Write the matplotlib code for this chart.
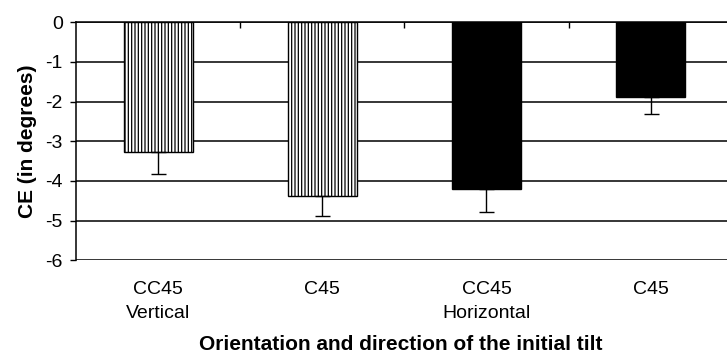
import numpy as np
import matplotlib
matplotlib.use('Agg')
import matplotlib.pyplot as plt

plt.rcParams['font.family'] = ['Liberation Sans', 'DejaVu Sans']
plt.rcParams['hatch.linewidth'] = 0.9
plt.rcParams['axes.unicode_minus'] = False

# data
directions = ["CC45", "C45", "CC45", "C45"]
orientations = ["Vertical", "", "Horizontal", ""]
ce_means = [-3.28, -4.38, -4.20, -1.88]
ce_errors = [0.54, 0.51, 0.59, 0.43]
hatches = ["|||||", "|||||", None, None]
fills = ["white", "white", "black", "black"]

fig = plt.figure(figsize=(7.27, 3.57), dpi=100)
ax = fig.add_axes([0.1045, 0.2709, 0.9035, 0.6666])

x = np.arange(len(ce_means))
for xi, m, h, fc in zip(x, ce_means, hatches, fills):
    ax.bar(xi, m, width=0.42, color=fc, edgecolor="black", linewidth=1.0,
           hatch=h, zorder=3)

ax.errorbar(x, ce_means, yerr=[ce_errors, np.zeros(len(ce_errors))],
            fmt="none", ecolor="black", elinewidth=1.0, capsize=5.4,
            capthick=1.0, zorder=4)

ax.set_xlim(-0.5, 3.5)
ax.set_ylim(-6, 0)
ax.set_yticks(np.arange(-6, 1, 1))
ax.yaxis.grid(True, color="black", linewidth=1.1, zorder=0)
ax.set_axisbelow(True)

labels = [d + ("\n" + o if o else "") for d, o in zip(directions, orientations)]
ax.set_xticks(x)
ax.set_xticklabels(labels, fontsize=14)
for t in ax.get_xticklabels():
    t.set_linespacing(1.5)
    t.set_verticalalignment("top")
ax.set_xticks(x[:-1] + 0.5, minor=True)
ax.tick_params(axis="x", which="major", length=0, pad=15)
ax.tick_params(axis="x", which="minor", bottom=False, top=True,
               direction="in", length=4.5, width=1.0)
ax.tick_params(axis="y", length=4.5, width=1.0, labelsize=14, pad=5)

for s in ["right", "bottom"]:
    ax.spines[s].set_visible(False)
ax.spines["left"].set_linewidth(1.1)
ax.spines["top"].set_linewidth(1.1)

ax.set_ylabel("CE (in degrees)", fontsize=15, fontweight="bold", labelpad=6)
ax.set_xlabel("Orientation and direction of the initial tilt", fontsize=15,
              fontweight="bold")
ax.xaxis.set_label_coords(0.4945, -0.315)

fig.savefig("out.png", dpi=100)
